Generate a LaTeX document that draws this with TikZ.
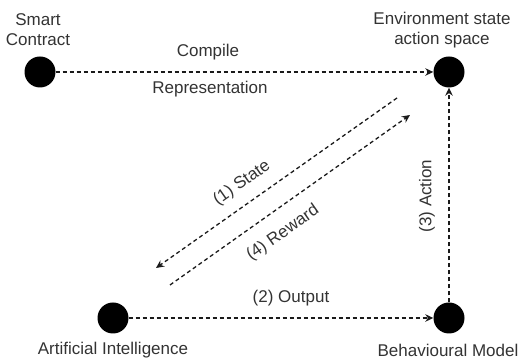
\documentclass[tikz,border=0pt]{standalone}
\usepackage{fontspec}
\setmainfont{Liberation Sans}
\usetikzlibrary{arrows.meta}
\definecolor{txt}{HTML}{333333}
\definecolor{ln}{HTML}{1A1A1A}
\begin{document}
\begin{tikzpicture}[x=1pt,y=1pt,
  dot/.style={circle,fill=black,draw=none,minimum size=31pt,inner sep=0pt},
  lbl/.style={text=txt,font=\fontsize{17}{20}\selectfont,inner sep=0pt,align=center},
  conn/.style={draw=ln,line width=1.3pt,dash pattern=on 4pt off 3pt,-{Stealth[length=8pt,width=7.5pt]}}]
\useasboundingbox (0,0) rectangle (523,363);
\node[dot] (sc) at (40,291) {};
\node[dot] (env) at (449,291) {};
\node[dot] (ai) at (113,45) {};
\node[dot] (bm) at (449,45) {};
\node[lbl] (scl) at (38,333) {Smart\\Contract};
\node[lbl] (envl) at (442,333) {Environment state\\action space};
\node[lbl] (ail) at (113,13) {Artificial Intelligence};
\node[lbl] (bml) at (448,13) {Behavioural Model};
\coordinate (s1) at (397,265);
\coordinate (s2) at (156,95);
\coordinate (r1) at (170,78);
\coordinate (r2) at (410,248);
\draw[conn] (sc) -- (env);
\draw[conn] (ai) -- (bm);
\draw[conn] (bm) -- (env);
\draw[conn] (s1) -- (s2);
\draw[conn] (r1) -- (r2);
\node[lbl] (cmp) at (208,311) {Compile};
\node[lbl] (rep) at (210,274) {Representation};
\node[lbl] (out) at (291,65) {(2) Output};
\node[lbl,rotate=90] (act) at (427,167) {(3) Action};
\node[lbl,rotate=35] (st) at (242,180) {(1) State};
\node[lbl,rotate=35] (rw) at (283,130) {(4) Reward};
\end{tikzpicture}
\end{document}
